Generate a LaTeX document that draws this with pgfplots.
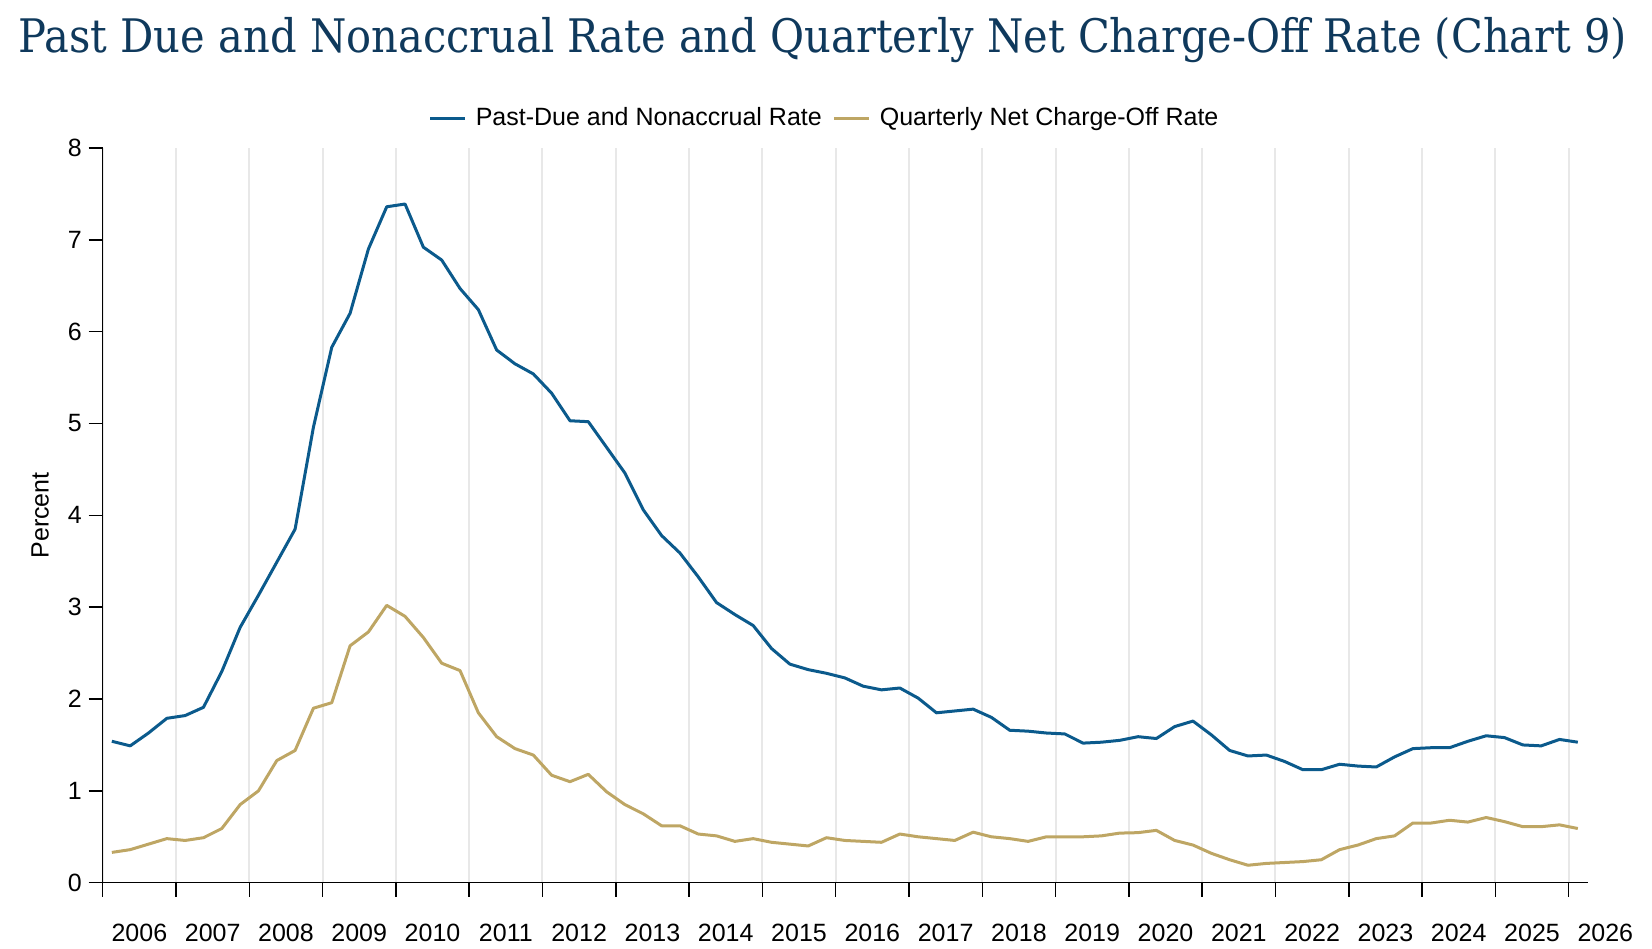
\documentclass[border=0pt]{standalone}
\usepackage{pgfplots}
\pgfplotsset{compat=1.18}
\usepackage{pgfplotstable}
\usepackage{graphicx}
\usepackage{fontspec}
\setmainfont{Liberation Sans}
\newfontfamily\titlefont{DejaVu Serif Condensed}
\definecolor{pdblue}{HTML}{0B5A8C}
\definecolor{ncogold}{HTML}{BEA664}
\definecolor{titleblue}{HTML}{0F395C}

\pgfplotstableread{
x pd nco
2005.125 1.54 0.33
2005.375 1.49 0.36
2005.625 1.63 0.42
2005.875 1.79 0.48
2006.125 1.82 0.46
2006.375 1.91 0.49
2006.625 2.30 0.59
2006.875 2.78 0.85
2007.125 3.13 1.00
2007.375 3.49 1.33
2007.625 3.85 1.44
2007.875 4.96 1.90
2008.125 5.83 1.96
2008.375 6.20 2.58
2008.625 6.90 2.73
2008.875 7.36 3.02
2009.125 7.39 2.90
2009.375 6.92 2.67
2009.625 6.78 2.39
2009.875 6.47 2.31
2010.125 6.24 1.85
2010.375 5.80 1.59
2010.625 5.65 1.46
2010.875 5.54 1.39
2011.125 5.33 1.17
2011.375 5.03 1.10
2011.625 5.02 1.18
2011.875 4.74 0.99
2012.125 4.46 0.85
2012.375 4.06 0.75
2012.625 3.78 0.62
2012.875 3.59 0.62
2013.125 3.33 0.53
2013.375 3.05 0.51
2013.625 2.92 0.45
2013.875 2.80 0.48
2014.125 2.55 0.44
2014.375 2.38 0.42
2014.625 2.32 0.40
2014.875 2.28 0.49
2015.125 2.23 0.46
2015.375 2.14 0.45
2015.625 2.10 0.44
2015.875 2.12 0.53
2016.125 2.01 0.50
2016.375 1.85 0.48
2016.625 1.87 0.46
2016.875 1.89 0.55
2017.125 1.80 0.50
2017.375 1.66 0.48
2017.625 1.65 0.45
2017.875 1.63 0.50
2018.125 1.62 0.50
2018.375 1.52 0.50
2018.625 1.53 0.51
2018.875 1.55 0.54
2019.125 1.59 0.545
2019.375 1.57 0.57
2019.625 1.70 0.46
2019.875 1.76 0.41
2020.125 1.61 0.32
2020.375 1.44 0.25
2020.625 1.38 0.19
2020.875 1.39 0.21
2021.125 1.32 0.22
2021.375 1.23 0.23
2021.625 1.23 0.25
2021.875 1.29 0.36
2022.125 1.27 0.41
2022.375 1.26 0.48
2022.625 1.37 0.51
2022.875 1.46 0.65
2023.125 1.47 0.65
2023.375 1.47 0.68
2023.625 1.54 0.66
2023.875 1.60 0.71
2024.125 1.58 0.665
2024.375 1.50 0.61
2024.625 1.49 0.61
2024.875 1.56 0.63
2025.125 1.53 0.59
}\datatable

\begin{document}
\begin{tikzpicture}[x=1pt,y=1pt]
\useasboundingbox (0,0) rectangle (826,474);
\node[anchor=center, text=titleblue, inner sep=0pt] at (411.5,454) {\resizebox{804pt}{!}{\titlefont Past Due and Nonaccrual Rate and Quarterly Net Charge-Off Rate (Chart 9)}};
\begin{axis}[
  at={(51.35pt,32.65pt)}, anchor=south west,
  scale only axis, width=742.5pt, height=367.35pt,
  xmin=2005, xmax=2025.26, ymin=0, ymax=8,
  axis x line*=bottom, axis y line*=left,
  axis line style={line width=0.75pt, black},
  xtick={2005,2006,2007,2008,2009,2010,2011,2012,2013,2014,2015,2016,2017,2018,2019,2020,2021,2022,2023,2024,2025},
  xticklabels={2006,2007,2008,2009,2010,2011,2012,2013,2014,2015,2016,2017,2018,2019,2020,2021,2022,2023,2024,2025,2026},
  ytick={0,1,2,3,4,5,6,7,8},
  tick align=outside, major tick length=7pt,
  tick style={line width=0.75pt, black},
  xmajorgrids, ymajorgrids=false,
  grid style={line width=1pt, color=black!9},
  /pgf/number format/assume math mode=true,
  tick label style={font=\fontsize{12.5pt}{15pt}\selectfont, text=black},
  xticklabel style={xshift=18.33pt, yshift=-10pt},
  ylabel={Percent},
  ylabel style={at={(axis description cs:-0.0422,0.5)}, anchor=center, font=\fontsize{12.5pt}{15pt}\selectfont},
  legend style={at={(axis description cs:0.4868,1.0408)}, anchor=center, draw=none, fill=none,
    font=\fontsize{12.5pt}{15pt}\selectfont, inner sep=0pt,
    /tikz/every odd column/.append style={column sep=2.5pt},
    /tikz/every even column/.append style={column sep=3.5pt}},
  legend columns=2,
  legend image code/.code={\draw[#1, line width=1.5pt] (0pt,0pt) -- (17.5pt,0pt);},
]
\addplot[pdblue, line width=1.5pt, line join=round] table[x=x, y=pd] {\datatable};
\addlegendentry{Past-Due and Nonaccrual Rate}
\addplot[ncogold, line width=1.5pt, line join=round] table[x=x, y=nco] {\datatable};
\addlegendentry{Quarterly Net Charge-Off Rate}
\end{axis}
\end{tikzpicture}
\end{document}
